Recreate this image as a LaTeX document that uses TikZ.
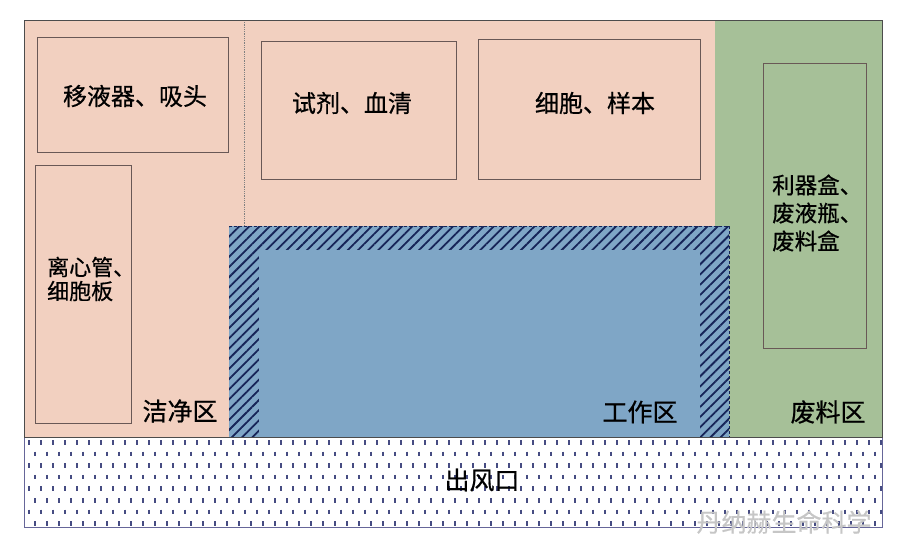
\documentclass[tikz,border=0pt]{standalone}
\usepackage{fontspec}
\setmainfont[FakeBold=0.6]{Noto Sans CJK SC}
\usepackage{tikz}
\usetikzlibrary{calc,patterns.meta,positioning}
\definecolor{cleanpink}{RGB}{242,208,192}
\definecolor{wastegreen}{RGB}{166,192,152}
\definecolor{workblue}{RGB}{127,166,198}
\definecolor{hatchnavy}{RGB}{22,36,88}
\definecolor{boxline}{RGB}{105,88,86}
\definecolor{dotblue}{RGB}{70,76,130}

\tikzset{
  itembox/.style={draw=boxline, line width=0.9pt},
  zonetext/.style={font=\fontsize{25}{30}\selectfont, inner sep=0pt},
  itemtext/.style={font=\fontsize{24}{28}\selectfont, inner sep=0pt, align=left},
  listtext/.style={font=\fontsize{22.5}{28}\selectfont, inner sep=0pt, align=left, anchor=west},
}

\begin{document}
\begin{tikzpicture}[x=1pt,y=-1pt]
\useasboundingbox (0,0) rectangle (900,547);
% zones
\fill[cleanpink] (24,20) coordinate(A) rectangle (715,437) coordinate(B);
\fill[wastegreen] (715,20) coordinate(C) rectangle (882,437) coordinate(D);
\draw[gray, densely dotted, line width=0.8pt] (244,20) coordinate(E) -- (244,226) coordinate(F);
% work area with hatched rim
\path[preaction={fill=workblue}, pattern={Lines[angle=45,distance=7.2pt,line width=1.8pt]}, pattern color=hatchnavy]
  (229,226) coordinate(G) rectangle (729,437) coordinate(H);
\draw[hatchnavy, densely dashed, line width=0.6pt] (G) -- (G -| H) -- (H);
\fill[workblue] (259,250) coordinate(I) rectangle (700,437) coordinate(J);
% air outlet
\begin{scope}
\clip (24,437) rectangle (882,527);
\fill[white] (24,437) rectangle (882,527);
\foreach \r in {0,...,7}
  \foreach \c in {0,...,72}
    \draw[dotblue, line width=1.6pt] ({29+12*\c+6*mod(\r,2)},{440+11.6*\r}) -- ++(0,4.5);
\end{scope}
\draw[gray!80!blue, line width=0.8pt] (24,437) coordinate(K) rectangle (882,527) coordinate(L);
\draw[gray!60!black, line width=0.8pt] (A) rectangle (D);
% item boxes
\draw[itembox] (37,37) rectangle (228,152);
\draw[itembox] (35,165) rectangle (131,423);
\draw[itembox] (261,41) rectangle (456,179);
\draw[itembox] (478,39) rectangle (700,179);
\draw[itembox] (763,63) rectangle (866,348);
% texts
\node[itemtext] (pip) at (135,96) {移液器、吸头};
\node[listtext, font=\fontsize{22}{24}\selectfont] (tube) at (47,279) {离心管、\\细胞板};
\node[itemtext] (reag) at (352,103) {试剂、血清};
\node[itemtext] (cell) at (595,103) {细胞、样本};
\node[listtext] (waste) at (772,213) {利器盒、\\废液瓶、\\废料盒};
\node[zonetext] (clean) at (180,411) {洁净区};
\node[zonetext] (work) at (640,412) {工作区};
\node[zonetext] (wz) at (828,412) {废料区};
\node[zonetext] (air) at (482,480) {出风口};
\node[zonetext, text=gray!45] (mark) at (784,522) {丹纳赫生命科学};
\end{tikzpicture}
\end{document}
